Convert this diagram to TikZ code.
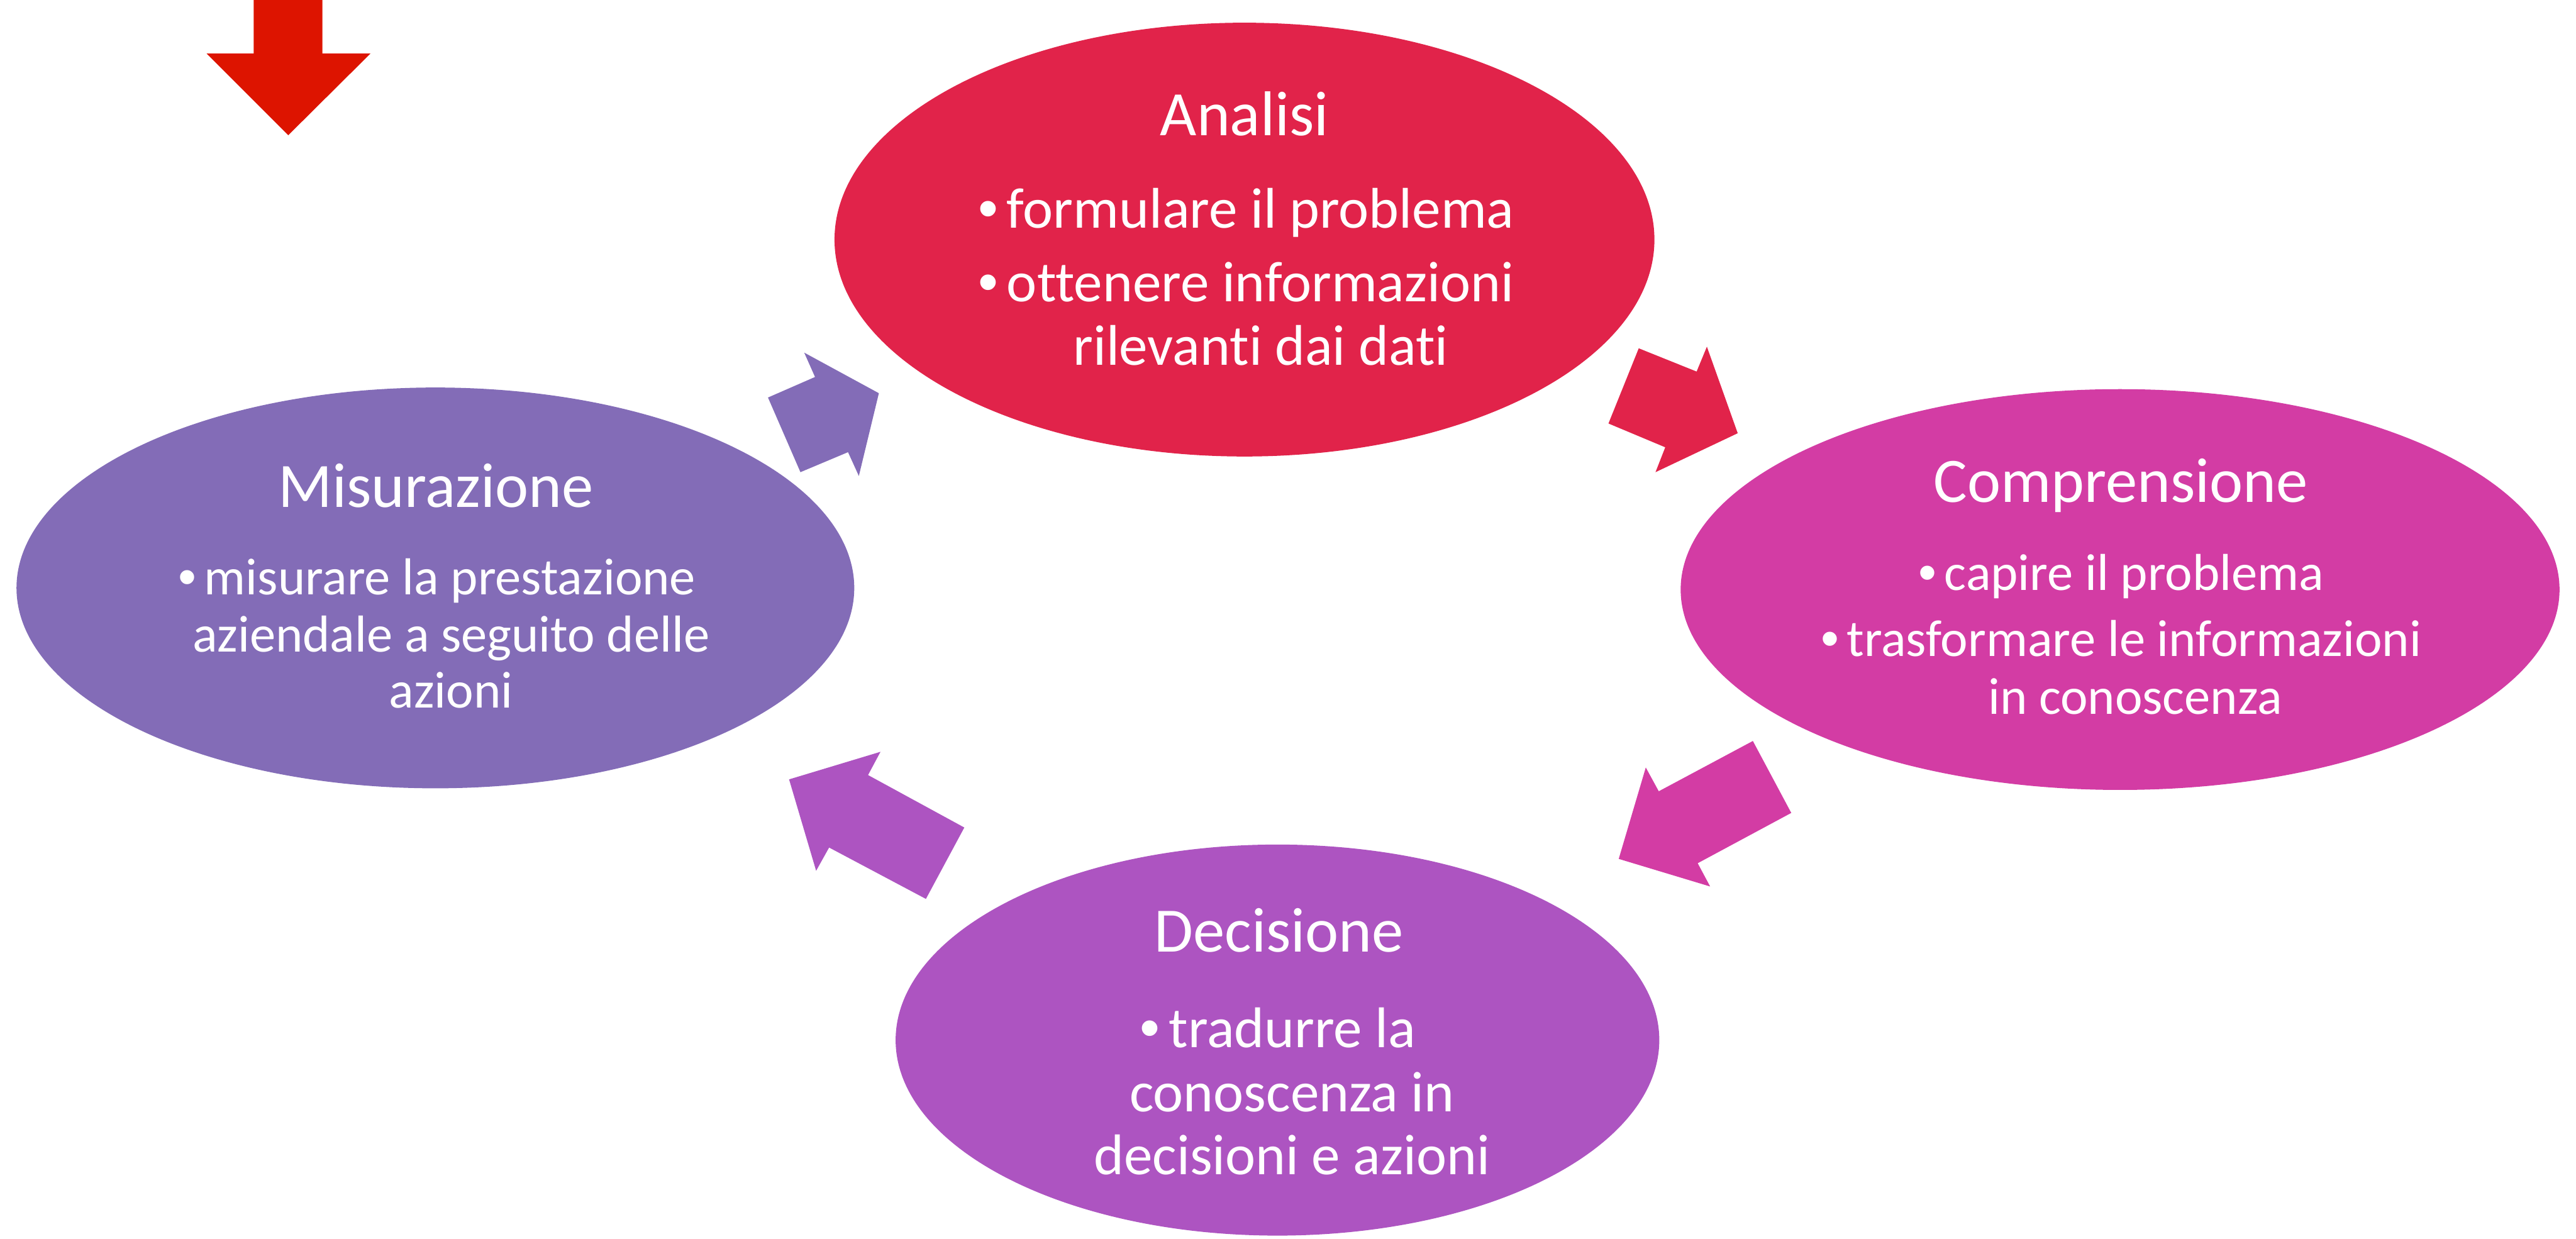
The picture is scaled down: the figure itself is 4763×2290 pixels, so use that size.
\documentclass[tikz,border=0pt]{standalone}
\usepackage{fontspec}
\setmainfont{Carlito}[Ligatures=NoCommon]
\newfontfamily\bulletfont{Liberation Sans}
\usetikzlibrary{shapes.geometric}

\definecolor{anaColor}{HTML}{E1234A}
\definecolor{comColor}{HTML}{D33CA4}
\definecolor{decColor}{HTML}{AD54C1}
\definecolor{misColor}{HTML}{836CB7}
\definecolor{startRed}{HTML}{DD1400}

\tikzset{
  phase/.style={ellipse, inner sep=0pt, draw=none},
  ttl/.style={text=white, inner sep=0pt, anchor=base, font=\fontsize{117}{130}\selectfont},
  itmL/.style={text=white, inner sep=0pt, anchor=base, font=\fontsize{106}{116}\selectfont},
  itmS/.style={text=white, inner sep=0pt, anchor=base, font=\fontsize{96}{106}\selectfont},
}
% bullet followed by the hanging indent
\newcommand{\bul}{\makebox[0.5em][l]{\bulletfont •}}

\begin{document}
\begin{tikzpicture}[x=1pt, y=-1pt]
\useasboundingbox (0,0) rectangle (4763,2290);

% starting marker
\fill[startRed] (469,0) -- (596,0) -- (596,99) -- (685,99) -- (533,250)
  -- (382,99) -- (469,99) -- cycle;

% the four phases
\node[phase, fill=anaColor, minimum width=1516pt, minimum height=802pt] (ana) at (2301,443) {};
\node[phase, fill=comColor, minimum width=1625pt, minimum height=741pt] (com) at (3920,1090) {};
\node[phase, fill=decColor, minimum width=1412pt, minimum height=723pt] (dec) at (2362,1923) {};
\node[phase, fill=misColor, minimum width=1549pt, minimum height=741pt] (mis) at (805,1087) {};

% block arrows between phases
\fill[anaColor] (3030,644) -- (3137,687) -- (3156,641) -- (3213,801)
  -- (3061,873) -- (3079,827) -- (2974,783) -- cycle;
\fill[comColor] (3241,1370) -- (3312,1503) -- (3139,1596) -- (3162,1639)
  -- (2993,1588) -- (3043,1419) -- (3067,1463) -- cycle;
\fill[decColor] (1628,1390) -- (1605,1433) -- (1783,1530) -- (1712,1662)
  -- (1533,1567) -- (1509,1610) -- (1459,1441) -- cycle;
\fill[misColor] (1487,652) -- (1625,727) -- (1588,880) -- (1568,836)
  -- (1480,873) -- (1420,735) -- (1507,697) -- cycle;

% Analisi
\node[ttl] (anaT) at (2301,251) {Analisi};
\node[itmL] (anaA) at (2304,421) {\bul formulare il problema};
\node[itmL] (anaB) at (2304,557) {\bul ottenere informazioni};
\node[itmL] (anaC) at (2331,675) {rilevanti dai dati};

% Comprensione
\node[ttl] (comT) at (3921,929) {Comprensione};
\node[itmS] (comA) at (3922,1091) {\bul capire il problema};
\node[itmS] (comB) at (3922,1213) {\bul trasformare le informazioni};
\node[itmS] (comC) at (3948,1320) {in conoscenza};

% Decisione
\node[ttl] (decT) at (2365,1760) {Decisione};
\node[itmL] (decA) at (2363,1937) {\bul tradurre la};
\node[itmL] (decB) at (2389,2055) {conoscenza in};
\node[itmL] (decC) at (2389,2172) {decisioni e azioni};

% Misurazione
\node[ttl] (misT) at (806,938) {Misurazione};
\node[itmS] (misA) at (808,1099) {\bul misurare la prestazione};
\node[itmS] (misB) at (834,1205) {aziendale a seguito delle};
\node[itmS] (misC) at (834,1309) {azioni};
\end{tikzpicture}
\end{document}
